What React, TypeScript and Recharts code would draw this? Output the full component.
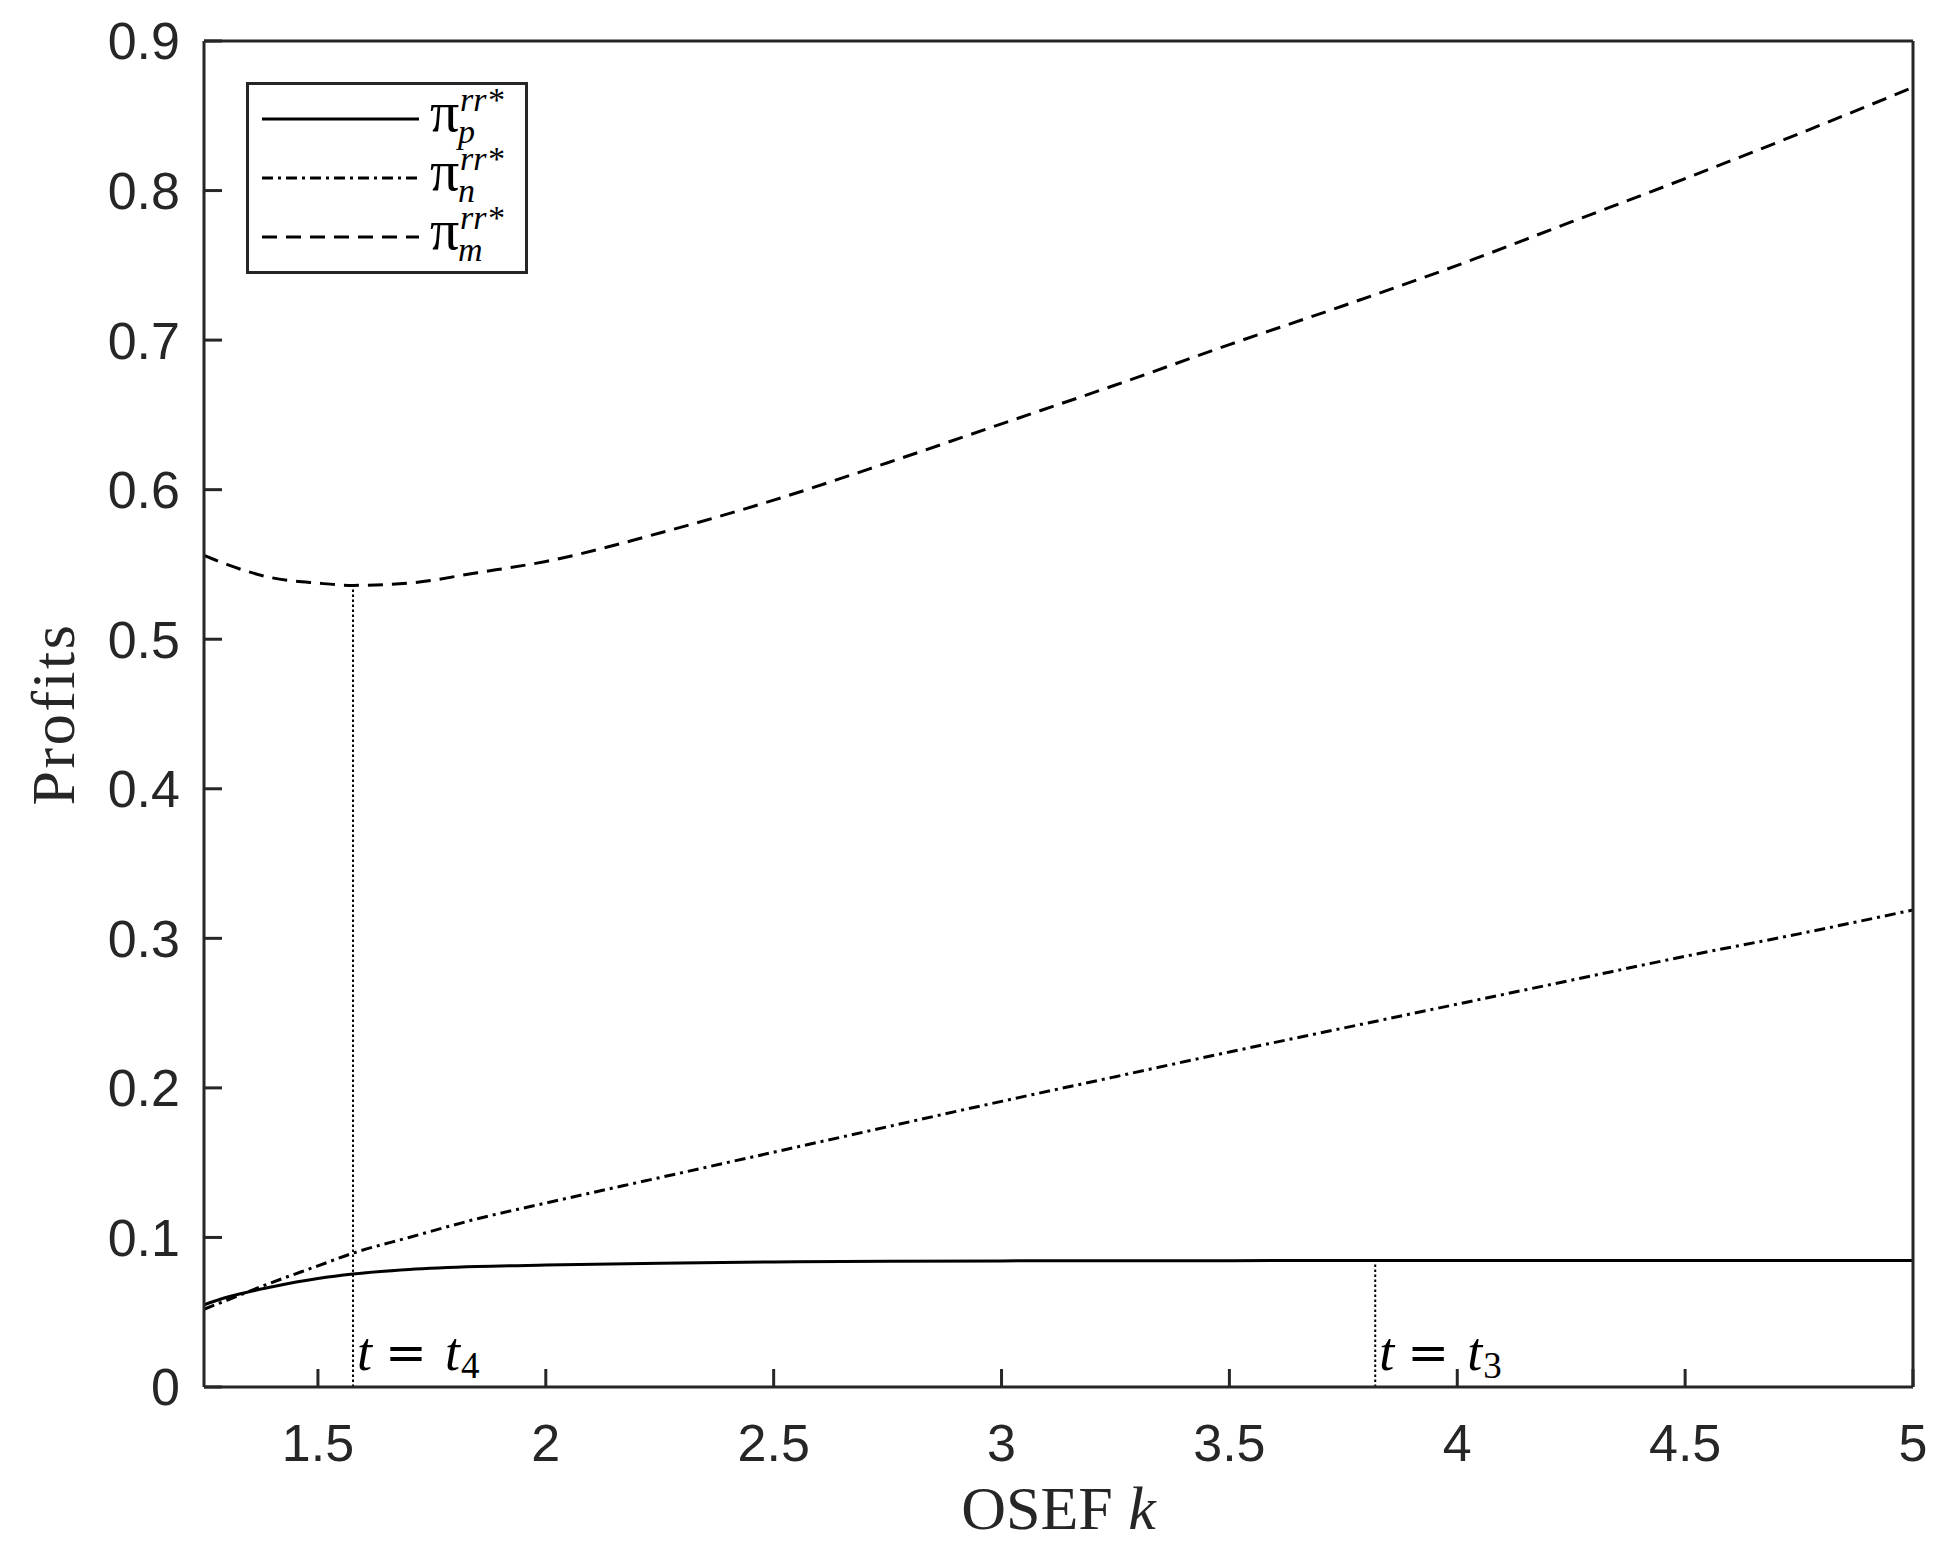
import React from 'react';
import { LineChart, Line, XAxis, YAxis, ReferenceLine, Legend } from 'recharts';

// ---- data ----
const kValues = [1.25, 1.3, 1.4, 1.5, 1.577, 1.7, 1.85, 2, 2.25, 2.5, 2.75, 3, 3.25, 3.5, 3.75, 4, 4.25, 4.5, 4.75, 5];
const piP = [0.055, 0.06, 0.067, 0.0725, 0.0755, 0.0785, 0.0805, 0.0815, 0.0828, 0.0836, 0.084, 0.0843, 0.0845, 0.0845, 0.0846, 0.0846, 0.0846, 0.0846, 0.0846, 0.0846];
const piN = [0.052, 0.058, 0.07, 0.081, 0.0895, 0.1, 0.1125, 0.123, 0.14, 0.157, 0.174, 0.191, 0.2075, 0.224, 0.24, 0.256, 0.272, 0.288, 0.303, 0.319];
const piM = [0.556, 0.55, 0.541, 0.5375, 0.536, 0.5375, 0.5445, 0.552, 0.571, 0.593, 0.618, 0.644, 0.67, 0.697, 0.723, 0.75, 0.779, 0.808, 0.838, 0.869];

const xTicks = [1.5, 2, 2.5, 3, 3.5, 4, 4.5, 5];
const yTicks = [0, 0.1, 0.2, 0.3, 0.4, 0.5, 0.6, 0.7, 0.8, 0.9];
const xDomain = [1.25, 5];
const yDomain = [0, 0.9];

const thresholdK = [1.577, 3.82];
const thresholdTop = [0.536, 0.0845];
const thresholdSub = ['4', '3'];

const seriesKeys = ['p', 'n', 'm'];
const seriesDash = ['0', '11 5 3 5', '15 9'];

const data = kValues.map((k, i) => ({ k, p: piP[i], n: piN[i], m: piM[i] }));

const AXIS = '#262626';
const SERIF = '"Liberation Serif", "Times New Roman", serif';
const SANS = '"Liberation Sans", Arial, Helvetica, sans-serif';

const YLabel = (props: any) => {
  const vb = props.viewBox || { x: 0, y: 41, width: 204, height: 1346 };
  const cx = vb.x + 74;
  const cy = vb.y + vb.height / 2;
  return (
    <text x={cx} y={cy} transform={`rotate(-90, ${cx}, ${cy})`} textAnchor="middle"
      fontFamily={SERIF} fontSize={62} letterSpacing={2.5} fill={AXIS}>Profits</text>
  );
};

const XLabel = (props: any) => {
  const vb = props.viewBox || { x: 204, y: 1387, width: 1709, height: 158 };
  const cx = vb.x + vb.width / 2;
  const by = vb.y + 142;
  return (
    <text x={cx} y={by} textAnchor="middle" fontFamily={SERIF} fontSize={62} fill={AXIS}>
      OSEF <tspan fontStyle="italic">k</tspan>
    </text>
  );
};

const makeThresholdLabel = (sub: string) => (props: any) => {
  const vb = props.viewBox || {};
  const x0 = (vb.x ?? 0) + 4;
  const yb = (vb.y ?? 0) + (vb.height ?? 0) - 17;
  return (
    <text x={x0} y={yb} fontFamily={SERIF} fontSize={54} fill="#000">
      <tspan x={x0} fontStyle="italic">t</tspan>
      <tspan x={x0 + 28} fontFamily='"DejaVu Serif", serif' fontSize={50}>=</tspan>
      <tspan x={x0 + 88} fontStyle="italic">t</tspan>
      <tspan x={x0 + 104} dy={8} fontSize={37}>{sub}</tspan>
    </text>
  );
};

const PAD = 24;
const LegendBox = () => {
  const rows = [37, 96, 155];
  return (
    <svg width={282} height={192 + PAD} style={{ display: 'block', overflow: 'visible' }}>
      <rect x={1.5} y={PAD + 1.5} width={279} height={189} fill="#fff" stroke={AXIS} strokeWidth={3} />
      {seriesKeys.map((key, i) => (
        <g key={key}>
          <line x1={16} x2={173} y1={PAD + rows[i]} y2={PAD + rows[i]} stroke="#000" strokeWidth={3}
            strokeDasharray={seriesDash[i] === '0' ? undefined : seriesDash[i]} />
          <text x={184} y={PAD + rows[i] + 12} fontFamily={SERIF} fill="#000">
            <tspan fontSize={58}>π</tspan>
            <tspan x={214} y={PAD + rows[i] - 8} fontStyle="italic" fontSize={34}>rr*</tspan>
            <tspan x={212} y={PAD + rows[i] + 24} fontStyle="italic" fontSize={34}>{key}</tspan>
          </text>
        </g>
      ))}
    </svg>
  );
};

export default function App() {
  return (
    <div style={{ position: 'absolute', left: 0, top: 0, background: '#fff' }}>
      <LineChart width={1956} height={1545} data={data} margin={{ top: 40, right: 42, bottom: 0, left: 0 }}>
        <XAxis dataKey="k" type="number" domain={xDomain} ticks={xTicks} allowDataOverflow
          height={158} tickSize={-18} tickMargin={55}
          axisLine={{ stroke: AXIS, strokeWidth: 3 }} tickLine={{ stroke: AXIS, strokeWidth: 3 }}
          tick={{ fill: AXIS, fontSize: 52, fontFamily: SANS }}
          label={<XLabel />} />
        <XAxis xAxisId="top" orientation="top" type="number" domain={xDomain} ticks={xTicks} allowDataOverflow
          height={1} tickSize={-18} tick={false}
          axisLine={{ stroke: AXIS, strokeWidth: 3 }} tickLine={{ stroke: AXIS, strokeWidth: 3 }} />
        <YAxis type="number" domain={yDomain} ticks={yTicks} allowDataOverflow
          width={204} tickSize={-18} tickMargin={42}
          axisLine={{ stroke: AXIS, strokeWidth: 3 }} tickLine={{ stroke: AXIS, strokeWidth: 3 }}
          tick={{ fill: AXIS, fontSize: 52, fontFamily: SANS }}
          label={<YLabel />} />
        <YAxis yAxisId="right" orientation="right" type="number" domain={yDomain} ticks={yTicks} allowDataOverflow
          width={1} tickSize={-18} tick={false}
          axisLine={{ stroke: AXIS, strokeWidth: 3 }} tickLine={{ stroke: AXIS, strokeWidth: 3 }} />
        {thresholdK.map((k, i) => (
          <ReferenceLine key={k} segment={[{ x: k, y: 0 }, { x: k, y: thresholdTop[i] }]}
            stroke="#000" strokeWidth={2} strokeDasharray="2.5 2.5"
            label={makeThresholdLabel(thresholdSub[i])} />
        ))}
        <Line dataKey="p" type="monotone" stroke="#000" strokeWidth={3} dot={false} isAnimationActive={false} />
        <Line dataKey="n" type="monotone" stroke="#000" strokeWidth={3} strokeDasharray={seriesDash[1]} dot={false} isAnimationActive={false} />
        <Line dataKey="m" type="monotone" stroke="#000" strokeWidth={3} strokeDasharray={seriesDash[2]} dot={false} isAnimationActive={false} />
        <Legend layout="horizontal" verticalAlign="middle" align="center"
          wrapperStyle={{ left: 246, top: 82 - PAD, width: 282, height: 192 + PAD }}
          content={() => <LegendBox />} />
      </LineChart>
    </div>
  );
}
